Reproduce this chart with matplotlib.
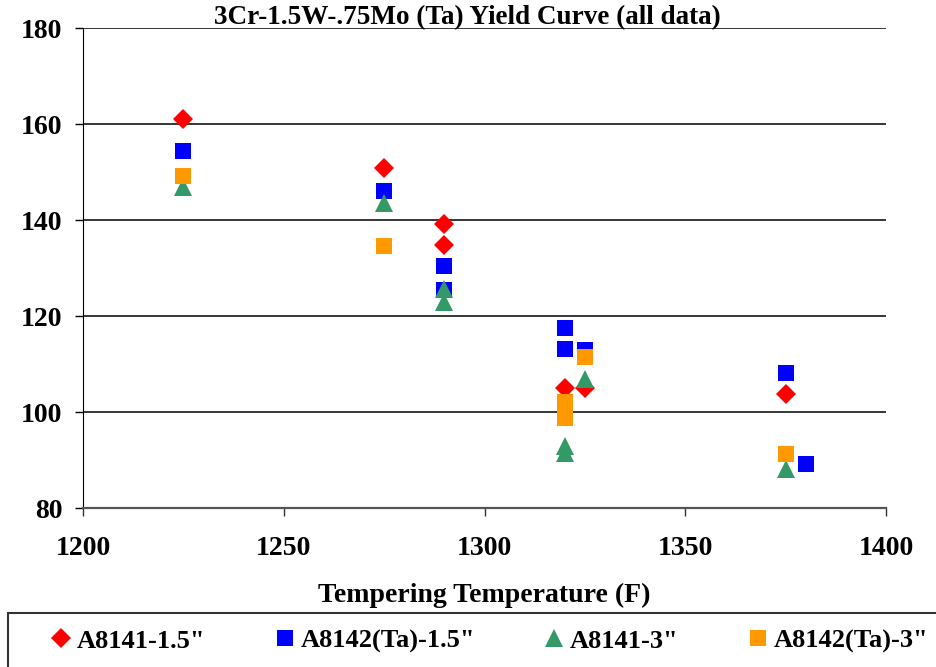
import matplotlib.pyplot as plt
from matplotlib.patches import Rectangle

# tempering temperature (F) vs yield strength (ksi), one list pair per heat/thickness
a8141_15_temp = [1225, 1275, 1290, 1290, 1320, 1325, 1375]
a8141_15_ys = [161.0, 150.8, 139.1, 134.8, 104.9, 105.0, 103.8]

a8142_15_temp = [1225, 1275, 1290, 1290, 1320, 1320, 1325, 1375, 1380]
a8142_15_ys = [154.4, 146.0, 130.5, 125.4, 117.4, 113.1, 113.0, 108.1, 89.2]

a8141_3_temp = [1225, 1275, 1290, 1290, 1320, 1320, 1325, 1375]
a8141_3_ys = [146.9, 143.5, 125.6, 122.9, 93.0, 91.5, 106.9, 88.1]

a8142_3_temp = [1225, 1275, 1320, 1320, 1325, 1375]
a8142_3_ys = [149.2, 134.6, 102.1, 98.8, 111.5, 91.3]

series = [
    ('A8141-1.5"', a8141_15_temp, a8141_15_ys, "D", "#ff0000", 10),
    ('A8142(Ta)-1.5"', a8142_15_temp, a8142_15_ys, "s", "#0000ff", 12),
    ('A8141-3"', a8141_3_temp, a8141_3_ys, "^", "#339966", 13),
    ('A8142(Ta)-3"', a8142_3_temp, a8142_3_ys, "s", "#ff9900", 12),
]

plt.rcParams["font.family"] = ["Liberation Serif", "DejaVu Serif"]
plt.rcParams["font.weight"] = "bold"

fig = plt.figure(figsize=(9.37, 6.67), dpi=100)
ax = fig.add_axes([83 / 937, 1 - 508 / 667, (886 - 83) / 937, (508 - 28) / 667])

for label, x, y, marker, color, ms in series:
    ax.plot(x, y, linestyle="none", marker=marker, color=color,
            markersize=ms, markeredgewidth=0, label=label, clip_on=False,
            zorder=3)

ax.set_xlim(1200, 1400)
ax.set_ylim(80, 180)
ax.set_xticks([1200, 1250, 1300, 1350, 1400])
ax.set_yticks([80, 100, 120, 140, 160, 180])
for yv in [100, 120, 140, 160, 180]:
    ax.axhline(yv, color="black", lw=1.1, zorder=1)

ax.spines["top"].set_visible(False)
ax.spines["right"].set_visible(False)
ax.spines["left"].set_color("black")
ax.spines["bottom"].set_color("#555555")
ax.spines["bottom"].set_linewidth(1.6)
ax.tick_params(axis="both", direction="out", length=6, width=1,
               labelsize=20)
ax.tick_params(axis="y", pad=9)
ax.tick_params(axis="x", pad=14, color="#333333")
for t in ax.get_xticklabels() + ax.get_yticklabels():
    t.set_fontweight("bold")

ax.set_xlabel("Tempering Temperature (F)", fontsize=20, fontweight="bold",
              labelpad=16)
fig.text(0.499, 1 - 18 / 667, "3Cr-1.5W-.75Mo (Ta) Yield Curve (all data)",
         ha="center", va="center", fontsize=19.5, fontweight="bold")

# legend box running off the bottom-right edge of the figure
fig.patches.append(Rectangle((8 / 937, -0.05), 1.0, 0.05 + (667 - 613) / 667,
                             transform=fig.transFigure, fill=False,
                             edgecolor="#333333", lw=1.5))
handles, labels = ax.get_legend_handles_labels()
leg = fig.legend(handles, labels, loc="center", ncol=4, frameon=False,
                 bbox_to_anchor=(0.521, 1 - 641 / 667), fontsize=19,
                 handletextpad=0.1, columnspacing=2.5, handlelength=1.0,
                 markerscale=1.0)
for t in leg.get_texts():
    t.set_fontweight("bold")

fig.savefig("out.png", dpi=100)
